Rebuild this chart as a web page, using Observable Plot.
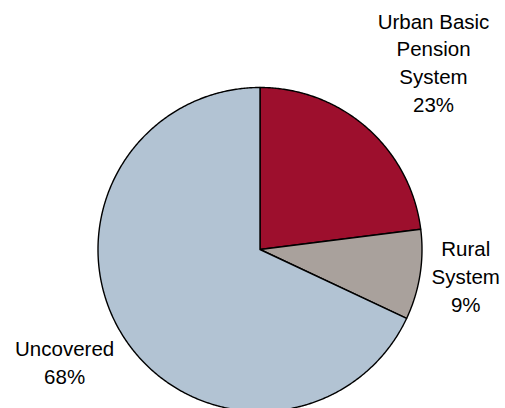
<!DOCTYPE html>
<html>
<head>
<meta charset="utf-8">
<script src="https://cdn.jsdelivr.net/npm/d3@7"></script>
<script src="https://cdn.jsdelivr.net/npm/@observablehq/plot@0.6"></script>
<style>
  html, body { margin: 0; padding: 0; background: #fff; }
  #chart { width: 505px; height: 408px; overflow: hidden; }
</style>
</head>
<body>
<div id="chart"></div>
<script>
// ---- data ----
const categories = ["Urban Basic Pension System", "Rural System", "Uncovered"];
const shares = [23, 9, 68];
const labelLines = ["Urban Basic\nPension\nSystem", "Rural\nSystem", "Uncovered"];

// ---- styles / layout (not data) ----
const sliceColors = ["#9D0F2D", "#A9A19C", "#B2C3D3"];
const labelPos = [[1.071, 1.162], [1.27, -0.158], [-1.206, -0.69]]; // in pie-radius units

const pie = d3.pie().sort(null).value(d => d.share)(
  categories.map((c, i) => ({category: c, share: shares[i]}))
);

const pts = [];
for (const s of pie) {
  const cat = s.data.category;
  pts.push({category: cat, x: 0, y: 0});
  const steps = Math.max(2, Math.ceil((s.endAngle - s.startAngle) / (Math.PI / 360)));
  for (let k = 0; k <= steps; k++) {
    const a = s.startAngle + (s.endAngle - s.startAngle) * k / steps;
    pts.push({category: cat, x: Math.sin(a), y: Math.cos(a)});
  }
}

const labels = categories.map((c, i) => ({
  category: c,
  text: `${labelLines[i]}\n${shares[i]}%`,
  x: labelPos[i][0],
  y: labelPos[i][1]
}));

const chart = Plot.plot({
  width: 505,
  height: 408,
  margin: 0,
  style: {fontFamily: "'Liberation Sans', Arial, sans-serif", background: "#fff"},
  x: {domain: [-1, 1], range: [97.5, 421.5], axis: null},
  y: {domain: [-1, 1], range: [411, 87], axis: null},
  color: {domain: categories, range: sliceColors},
  marks: [
    Plot.line(pts, {
      x: "x", y: "y", z: "category", fill: "category",
      stroke: "#000", strokeWidth: 1.4, strokeLinejoin: "round",
      curve: "linear-closed"
    }),
    Plot.text(labels, {
      x: "x", y: "y", text: "text",
      fontSize: 20.5, lineHeight: 1.35, fill: "#000",
      textAnchor: "middle", lineAnchor: "middle"
    })
  ]
});
document.getElementById("chart").append(chart);
</script>
</body>
</html>
